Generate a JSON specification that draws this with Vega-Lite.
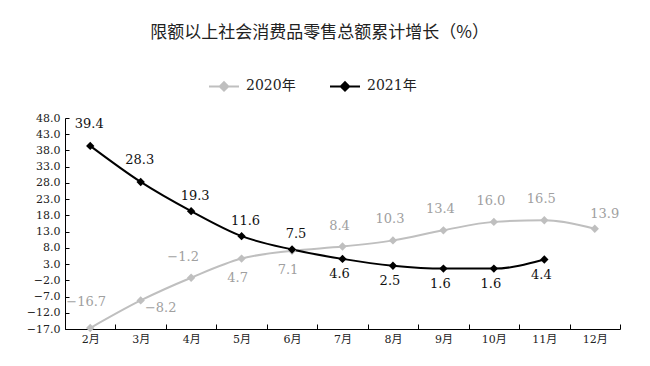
{
  "$schema": "https://vega.github.io/schema/vega-lite/v6.json",
  "width": 555,
  "height": 211,
  "autosize": {"type": "none"},
  "padding": {"left": 65, "top": 118, "right": 30, "bottom": 37},
  "background": "white",
  "title": {
    "text": "限额以上社会消费品零售总额累计增长（%）",
    "font": "Noto Sans CJK SC",
    "fontSize": 17,
    "fontWeight": "normal",
    "color": "#222222",
    "anchor": "start",
    "dx": 124,
    "offset": 28
  },
  "config": {
    "view": {"stroke": null},
    "font": "DejaVu Serif, Noto Sans CJK SC"
  },
  "data": {
    "values": [
      {"month": "2月", "year": "2020年", "value": -16.7},
      {"month": "3月", "year": "2020年", "value": -8.2},
      {"month": "4月", "year": "2020年", "value": -1.2},
      {"month": "5月", "year": "2020年", "value": 4.7},
      {"month": "6月", "year": "2020年", "value": 7.1},
      {"month": "7月", "year": "2020年", "value": 8.4},
      {"month": "8月", "year": "2020年", "value": 10.3},
      {"month": "9月", "year": "2020年", "value": 13.4},
      {"month": "10月", "year": "2020年", "value": 16.0},
      {"month": "11月", "year": "2020年", "value": 16.5},
      {"month": "12月", "year": "2020年", "value": 13.9},
      {"month": "2月", "year": "2021年", "value": 39.4},
      {"month": "3月", "year": "2021年", "value": 28.3},
      {"month": "4月", "year": "2021年", "value": 19.3},
      {"month": "5月", "year": "2021年", "value": 11.6},
      {"month": "6月", "year": "2021年", "value": 7.5},
      {"month": "7月", "year": "2021年", "value": 4.6},
      {"month": "8月", "year": "2021年", "value": 2.5},
      {"month": "9月", "year": "2021年", "value": 1.6},
      {"month": "10月", "year": "2021年", "value": 1.6},
      {"month": "11月", "year": "2021年", "value": 4.4}
    ]
  },
  "encoding": {
    "x": {
      "field": "month",
      "type": "nominal",
      "sort": ["2月","3月","4月","5月","6月","7月","8月","9月","10月","11月","12月"],
      "scale": {"paddingInner": 0, "paddingOuter": 0},
      "axis": {
        "title": null,
        "labelAngle": 0,
        "labelFont": "DejaVu Serif, Noto Sans CJK SC",
        "labelFontSize": 11,
        "labelColor": "#222222",
        "labelPadding": 9,
        "tickBand": "extent",
        "tickSize": -5,
        "tickColor": "#000000",
        "domainColor": "#000000",
        "domainWidth": 1,
        "grid": false
      }
    },
    "y": {
      "field": "value",
      "type": "quantitative",
      "scale": {"domain": [-17, 48], "nice": false, "zero": false},
      "axis": {
        "title": null,
        "values": [-17,-12,-7,-2,3,8,13,18,23,28,33,38,43,48],
        "format": ".1f",
        "labelFont": "DejaVu Serif",
        "labelFontSize": 11,
        "labelColor": "#222222",
        "labelPadding": 9,
        "tickSize": -4,
        "tickColor": "#000000",
        "domainColor": "#000000",
        "grid": false
      }
    }
  },
  "layer": [
    {
      "mark": {"type": "line", "interpolate": "monotone", "strokeWidth": 2},
      "encoding": {
        "color": {
          "field": "year",
          "type": "nominal",
          "scale": {"domain": ["2020年", "2021年"], "range": ["#bfbfbf", "#000000"]},
          "legend": {
            "title": null,
            "orient": "none",
            "direction": "horizontal",
            "legendX": 143,
            "legendY": -48,
            "symbolType": "M-1,0L1,0M0,-0.28L0.28,0L0,0.28L-0.28,0Z",
            "symbolSize": 900,
            "symbolStrokeWidth": 2,
            "labelFont": "DejaVu Serif, Noto Sans CJK SC",
            "labelFontSize": 14,
            "labelColor": "#222222",
            "labelOffset": 6,
            "columnPadding": 30,
            "encode": {
              "symbols": {
                "update": {
                  "fill": {"scale": "color", "field": "value"},
                  "stroke": {"scale": "color", "field": "value"}
                }
              }
            }
          }
        }
      }
    },
    {
      "mark": {"type": "point", "shape": "diamond", "filled": true, "size": 70, "opacity": 1},
      "encoding": {
        "color": {"field": "year", "type": "nominal", "legend": null}
      }
    },
    {
      "transform": [{"filter": "datum.year == '2021年' && (datum.month == '2月' || datum.month == '3月')"}],
      "mark": {"type": "text", "fontSize": 13, "color": "#111111", "dy": -22, "dx": -1},
      "encoding": {"text": {"field": "value", "type": "quantitative", "format": ".1f"}}
    },
    {
      "transform": [{"filter": "datum.year == '2021年' && (datum.month == '4月' || datum.month == '5月' || datum.month == '6月')"}],
      "mark": {"type": "text", "fontSize": 13, "color": "#111111", "dy": -15, "dx": 4},
      "encoding": {"text": {"field": "value", "type": "quantitative", "format": ".1f"}}
    },
    {
      "transform": [{"filter": "datum.year == '2021年' && indexof(['7月','8月','9月','10月','11月'], datum.month) >= 0"}],
      "mark": {"type": "text", "fontSize": 13, "color": "#111111", "dy": 15, "dx": -3},
      "encoding": {"text": {"field": "value", "type": "quantitative", "format": ".1f"}}
    },
    {
      "transform": [{"filter": "datum.year == '2020年' && datum.month == '2月'"}],
      "mark": {"type": "text", "fontSize": 13, "color": "#a0a0a0", "dy": -26, "dx": -4},
      "encoding": {"text": {"field": "value", "type": "quantitative", "format": ".1f"}}
    },
    {
      "transform": [{"filter": "datum.year == '2020年' && datum.month == '3月'"}],
      "mark": {"type": "text", "fontSize": 13, "color": "#a0a0a0", "dy": 8, "dx": 20},
      "encoding": {"text": {"field": "value", "type": "quantitative", "format": ".1f"}}
    },
    {
      "transform": [{"filter": "datum.year == '2020年' && datum.month == '4月'"}],
      "mark": {"type": "text", "fontSize": 13, "color": "#a0a0a0", "dy": -21, "dx": -8},
      "encoding": {"text": {"field": "value", "type": "quantitative", "format": ".1f"}}
    },
    {
      "transform": [{"filter": "datum.year == '2020年' && (datum.month == '5月' || datum.month == '6月')"}],
      "mark": {"type": "text", "fontSize": 13, "color": "#a0a0a0", "dy": 19, "dx": -4},
      "encoding": {"text": {"field": "value", "type": "quantitative", "format": ".1f"}}
    },
    {
      "transform": [{"filter": "datum.year == '2020年' && indexof(['7月','8月','9月','10月','11月'], datum.month) >= 0"}],
      "mark": {"type": "text", "fontSize": 13, "color": "#a0a0a0", "dy": -21, "dx": -3},
      "encoding": {"text": {"field": "value", "type": "quantitative", "format": ".1f"}}
    },
    {
      "transform": [{"filter": "datum.year == '2020年' && datum.month == '12月'"}],
      "mark": {"type": "text", "fontSize": 13, "color": "#a0a0a0", "dy": -15, "dx": 10},
      "encoding": {"text": {"field": "value", "type": "quantitative", "format": ".1f"}}
    }
  ]
}
